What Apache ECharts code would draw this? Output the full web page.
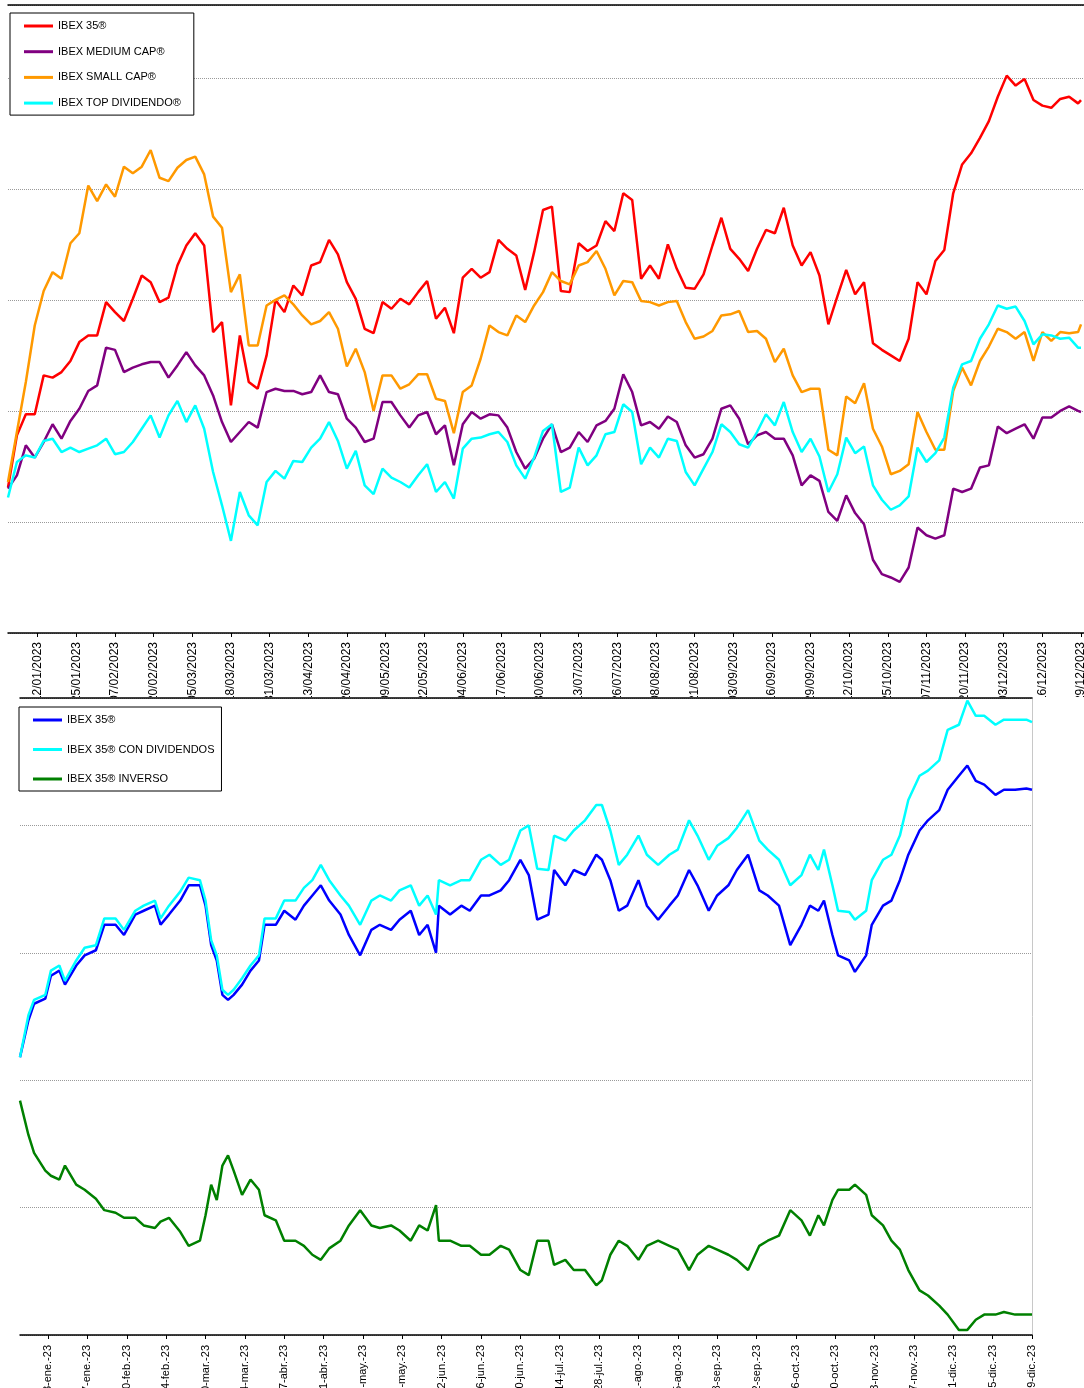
<!DOCTYPE html>
<html>
<head>
<meta charset="utf-8">
<script src="https://cdn.jsdelivr.net/npm/echarts@6/dist/echarts.min.js"></script>
<style>
  body { margin: 0; background: #fff; }
  #top { position: absolute; left: 0; top: 0; width: 1084px; height: 697px; }
  #bottom { position: absolute; left: 0; top: 697px; width: 1084px; height: 691px; }
</style>
</head>
<body>
<div id="top"></div>
<div id="bottom"></div>
<script>
// ---- top chart: sample days counted from 02/01/2023 ----
var topDays = [0,3,6,9,12,15,18,21,24,27,30,33,36,39,42,45,48,51,54,57,60,63,66,69,72,75,78,81,84,87,90,
  93,96,99,102,105,108,111,114,117,120,123,126,129,132,135,138,141,144,147,150,153,156,159,162,165,168,171,174,177,180,
  183,186,189,192,195,198,201,204,207,210,213,216,219,222,225,228,231,234,237,240,243,246,249,252,255,258,261,264,267,270,
  273,276,279,282,285,288,291,294,297,300,303,306,309,312,315,318,321,324,327,330,333,336,339,342,345,348,351,354,357,360,361];

var ibex35 = [83.1,87.8,89.7,89.7,93.2,93.0,93.5,94.5,96.2,96.8,96.8,99.8,98.9,98.1,100.1,102.2,101.6,99.8,100.2,103.1,104.9,106.0,104.9,97.1,98.0,90.5,96.8,92.6,92.0,95.0,100.0,
  98.9,101.3,100.4,103.1,103.4,105.4,104.1,101.6,100.1,97.4,97.0,99.8,99.2,100.1,99.6,100.7,101.7,98.3,99.3,97.0,102.0,102.8,102.0,102.5,105.4,104.6,104.0,100.9,104.3,108.1,
  108.4,100.8,100.7,105.1,104.4,104.9,107.1,106.2,109.6,109.0,101.9,103.1,101.9,105.0,102.8,101.1,101.0,102.3,104.9,107.4,104.6,103.7,102.6,104.6,106.3,106.0,108.3,104.9,103.1,104.3,
  102.2,97.8,100.3,102.7,100.5,101.6,96.1,95.5,95.0,94.5,96.5,101.6,100.5,103.5,104.5,109.6,112.2,113.2,114.6,116.1,118.3,120.2,119.3,119.9,118.0,117.5,117.3,118.1,118.3,117.7,118.0];

var ibexMedium = [83.0,84.2,86.9,85.8,87.2,88.8,87.5,89.1,90.2,91.8,92.3,95.7,95.5,93.5,93.9,94.2,94.4,94.4,93.0,94.1,95.3,94.1,93.2,91.4,89.0,87.2,88.1,89.0,88.5,91.7,92.0,
  91.8,91.8,91.5,91.7,93.2,91.7,91.5,89.3,88.5,87.2,87.5,90.8,90.8,89.6,88.5,89.6,89.9,87.9,88.7,85.1,88.8,89.9,89.3,89.7,89.6,88.5,86.3,84.8,85.7,87.5,
  88.8,86.3,86.7,88.1,87.2,88.7,89.1,90.2,93.3,91.7,88.7,89.0,88.4,89.5,89.0,86.9,85.8,86.1,87.5,90.2,90.5,89.3,87.0,87.8,88.1,87.5,87.5,86.0,83.3,84.2,
  83.7,80.9,80.1,82.4,80.8,79.8,76.6,75.3,75.0,74.6,75.9,79.5,78.8,78.5,78.8,83.0,82.7,83.0,84.9,85.1,88.6,88.0,88.4,88.8,87.5,89.4,89.4,90.0,90.4,90.0,89.9];

var ibexSmall = [83.6,88.1,92.6,97.7,100.8,102.5,101.9,105.1,106.0,110.3,108.9,110.4,109.3,112.0,111.4,112.0,113.5,111.0,110.7,111.9,112.6,112.9,111.3,107.5,106.5,100.7,102.3,95.9,95.9,99.5,100.0,
  100.4,99.6,98.6,97.8,98.1,98.9,97.4,94.0,95.6,93.5,90.0,93.2,93.2,92.0,92.4,93.3,93.3,91.1,90.9,88.0,91.7,92.3,94.7,97.7,97.1,96.8,98.6,98.0,99.5,100.7,
  102.5,101.7,101.4,103.1,103.4,104.4,102.8,100.4,101.7,101.6,99.9,99.8,99.5,99.8,99.9,98.0,96.5,96.7,97.2,98.6,98.7,99.0,97.1,97.2,96.5,94.4,95.6,93.2,91.7,92.0,
  92.0,86.5,86.0,91.3,90.7,92.5,88.4,86.8,84.3,84.6,85.2,89.9,88.1,86.5,86.5,91.8,93.9,92.3,94.5,95.8,97.4,97.1,96.5,97.1,94.5,97.1,96.3,97.1,97.0,97.1,97.8];

var ibexTopDiv = [82.2,85.4,86.0,85.8,87.3,87.5,86.3,86.7,86.3,86.6,86.9,87.5,86.1,86.3,87.2,88.4,89.6,87.6,89.6,90.9,89.0,90.5,88.4,84.5,81.5,78.3,82.7,80.6,79.7,83.6,84.6,
  83.9,85.5,85.4,86.7,87.5,89.0,87.3,84.8,86.4,83.3,82.5,84.8,84.0,83.6,83.1,84.2,85.2,82.7,83.6,82.1,86.6,87.5,87.6,87.9,88.1,87.2,85.1,83.9,85.8,88.2,
  88.8,82.7,83.1,86.7,85.1,86.0,87.9,88.1,90.6,89.9,85.2,86.7,85.8,87.5,87.3,84.5,83.3,84.8,86.3,88.8,88.1,87.0,86.7,88.1,89.7,88.7,90.8,88.1,86.3,87.5,
  85.9,82.7,84.3,87.6,86.2,86.8,83.3,82.0,81.1,81.5,82.3,86.7,85.4,86.2,87.6,92.1,94.2,94.5,96.5,97.8,99.5,99.2,99.4,98.1,96.0,96.9,96.8,96.5,96.6,95.7,95.7];

var topNames = ['IBEX 35®', 'IBEX MEDIUM CAP®', 'IBEX SMALL CAP®', 'IBEX TOP DIVIDENDO®'];

// ---- bottom chart: sample days counted from 03/01/2023 ----
var bottomDays = [0,3,5,9,11,14,16,20,23,27,30,34,37,41,44,48,50,53,57,60,
  64,66,68,70,72,74,76,79,82,85,87,91,94,98,101,104,107,110,114,117,
  121,125,128,132,135,139,142,145,148,149,153,157,160,164,167,171,174,178,181,184,
  188,190,194,197,201,205,207,210,213,216,220,223,227,231,234,238,241,245,248,252,
  255,259,263,266,270,274,278,281,284,286,289,291,295,297,301,303,307,310,313,316,
  320,323,327,330,334,337,340,343,347,350,354,358,360];

var ibex35b = [101.8,104.7,106.0,106.4,108.2,108.6,107.5,109.0,109.8,110.2,112.2,112.2,111.4,113.0,113.3,113.7,112.2,113.0,114.1,115.3,
  115.3,113.7,110.6,109.4,106.7,106.3,106.7,107.5,108.6,109.4,112.2,112.2,113.3,112.6,113.7,114.5,115.3,114.1,113.0,111.4,
  109.8,111.8,112.2,111.8,112.6,113.3,111.4,112.2,110.0,113.7,113.0,113.7,113.3,114.5,114.5,114.9,115.7,117.3,116.1,112.6,
  113.0,116.5,115.3,116.5,116.1,117.7,117.3,115.7,113.3,113.7,115.7,113.7,112.6,113.7,114.5,116.5,115.3,113.3,114.5,115.3,
  116.5,117.7,114.9,114.5,113.7,110.6,112.2,113.7,113.3,114.1,111.4,109.8,109.4,108.5,109.8,112.2,113.7,114.1,115.7,117.7,
  119.6,120.4,121.2,122.8,123.9,124.7,123.5,123.2,122.4,122.8,122.8,122.9,122.8];

var ibex35Div = [101.8,105.1,106.3,106.7,108.6,109.0,107.8,109.4,110.4,110.6,112.7,112.7,111.8,113.3,113.7,114.1,112.7,113.7,114.8,115.9,
  115.7,114.1,111.0,109.8,107.1,106.7,107.1,108.0,109.0,109.8,112.7,112.7,114.1,114.1,115.1,115.7,116.9,115.7,114.5,113.7,
  112.2,114.1,114.5,114.1,114.9,115.3,113.7,114.5,113.0,115.7,115.3,115.7,115.7,117.3,117.7,116.9,117.3,119.6,120.0,116.6,
  116.5,119.2,118.8,119.6,120.4,121.6,121.6,119.6,116.9,117.7,119.2,117.7,116.9,117.7,118.1,120.4,119.2,117.3,118.4,119.0,
  119.8,121.2,118.8,118.1,117.3,115.3,116.1,117.7,116.5,118.1,115.3,113.3,113.2,112.6,113.3,115.7,117.3,117.7,119.2,122.0,
  123.9,124.3,125.1,127.5,127.9,129.8,128.6,128.6,127.9,128.3,128.3,128.3,128.1];

var ibex35Inv = [98.4,95.7,94.3,92.9,92.5,92.2,93.3,91.8,91.4,90.7,89.8,89.6,89.2,89.2,88.6,88.4,88.9,89.2,88.1,87.0,
  87.4,89.4,91.8,90.6,93.3,94.1,92.9,91.0,92.2,91.4,89.4,89.0,87.4,87.4,87.0,86.3,85.9,86.8,87.4,88.6,
  89.8,88.6,88.4,88.6,88.2,87.4,88.6,88.2,90.2,87.4,87.4,87.0,87.0,86.3,86.3,87.0,86.7,85.1,84.7,87.4,
  87.4,85.5,85.9,85.1,85.1,83.9,84.3,86.3,87.4,87.0,85.9,87.0,87.4,87.0,86.7,85.1,86.3,87.0,86.7,86.3,
  85.9,85.1,87.0,87.4,87.8,89.8,89.0,87.8,89.4,88.6,90.6,91.4,91.4,91.8,91.0,89.4,88.6,87.4,86.7,85.1,
  83.5,83.1,82.3,81.6,80.4,80.4,81.2,81.6,81.6,81.8,81.6,81.6,81.6];

var bottomNames = ['IBEX 35®', 'IBEX 35® CON DIVIDENDOS', 'IBEX 35® INVERSO'];

var months = ['ene.', 'feb.', 'mar.', 'abr.', 'may.', 'jun.', 'jul.', 'ago.', 'sep.', 'oct.', 'nov.', 'dic.'];
var pad = function (n) { return (n < 10 ? '0' : '') + n; };

// calendar days on the x axis
function calendar(startUtc, count, fmt) {
  var out = [];
  for (var i = 0; i < count; i++) {
    out.push(fmt(new Date(startUtc + i * 86400000)));
  }
  return out;
}
var topCats = calendar(Date.UTC(2023, 0, 2), 363, function (d) {
  return pad(d.getUTCDate()) + '/' + pad(d.getUTCMonth() + 1) + '/' + d.getUTCFullYear();
});
var bottomCats = calendar(Date.UTC(2023, 0, 3), 361, function (d) {
  return pad(d.getUTCDate()) + '-' + months[d.getUTCMonth()] + '-' + String(d.getUTCFullYear()).slice(2);
});

function pairs(days, vals) {
  return days.map(function (d, i) { return [d, vals[i]]; });
}

var font = "'Liberation Sans', Arial, sans-serif";
var grid_line = { show: true, lineStyle: { color: '#9a9a9a', type: [1, 1], width: 1 } };

function lineSeries(name, color, data) {
  return {
    name: name, type: 'line', data: data, color: color,
    showSymbol: false, symbol: 'none', smooth: false,
    lineStyle: { width: 2.5, color: color }
  };
}

function legend(left, top, gap, padRight) {
  return {
    orient: 'vertical', left: left, top: top,
    icon: 'rect', itemWidth: 29, itemHeight: 3, itemGap: gap,
    padding: [6, padRight, 5, 14],
    backgroundColor: '#fff', borderColor: '#000', borderWidth: 1, borderRadius: 0,
    textStyle: { fontFamily: font, fontSize: 11, color: '#000', lineHeight: 14 }
  };
}

// top chart
var topChart = echarts.init(document.getElementById('top'));
topChart.setOption({
  animation: false,
  backgroundColor: '#fff',
  grid: { left: 8, right: 0, top: 5, bottom: 64, outerBoundsMode: 'none' },
  legend: legend(10, 13, 11.7, 13),
  xAxis: [{
    type: 'category', data: topCats, boundaryGap: false,
    axisLine: { lineStyle: { color: '#000', width: 1.5 } },
    axisTick: { length: 4, lineStyle: { color: '#000' },
      interval: function (i) { return i >= 10 && (i - 10) % 13 === 0; } },
    axisLabel: { rotate: 90, margin: 9, fontFamily: font, fontSize: 12, color: '#000',
      interval: function (i) { return i >= 10 && (i - 10) % 13 === 0; } },
    splitLine: { show: false }
  }, {
    type: 'category', data: topCats, boundaryGap: false, position: 'top',
    axisLine: { lineStyle: { color: '#000', width: 1.5 } },
    axisTick: { show: false }, axisLabel: { show: false }
  }],
  yAxis: {
    type: 'value', min: 70, max: 126.56, interval: 10,
    axisLine: { show: false }, axisTick: { show: false }, axisLabel: { show: false },
    splitLine: grid_line
  },
  series: [
    lineSeries(topNames[0], '#ff0000', pairs(topDays, ibex35)),
    lineSeries(topNames[1], '#800080', pairs(topDays, ibexMedium)),
    lineSeries(topNames[2], '#ff9900', pairs(topDays, ibexSmall)),
    lineSeries(topNames[3], '#00ffff', pairs(topDays, ibexTopDiv))
  ]
});

// bottom chart
var bottomChart = echarts.init(document.getElementById('bottom'));
bottomChart.setOption({
  animation: false,
  backgroundColor: '#fff',
  grid: { left: 20, right: 52, top: 1, bottom: 53, outerBoundsMode: 'none' },
  legend: legend(19, 10, 15.5, 7),
  xAxis: [{
    type: 'category', data: bottomCats, boundaryGap: false,
    axisLine: { lineStyle: { color: '#000', width: 1.5 } },
    axisTick: { length: 4, lineStyle: { color: '#000' },
      interval: function (i) { return i >= 10 && (i - 10) % 14 === 0; } },
    axisLabel: { rotate: 90, margin: 10, fontFamily: font, fontSize: 11, color: '#000',
      interval: function (i) { return i >= 10 && (i - 10) % 14 === 0; } },
    splitLine: { show: false }
  }, {
    type: 'category', data: bottomCats, boundaryGap: false, position: 'top',
    axisLine: { lineStyle: { color: '#000', width: 1.5 } },
    axisTick: { show: false }, axisLabel: { show: false }
  }],
  yAxis: [{
    type: 'value', min: 80, max: 130, interval: 10,
    axisLine: { show: false }, axisTick: { show: false }, axisLabel: { show: false },
    splitLine: grid_line
  }, {
    type: 'value', min: 80, max: 130, interval: 10, position: 'right',
    axisLine: { show: true, lineStyle: { color: '#c8c8c8' } },
    axisTick: { show: false }, axisLabel: { show: false }, splitLine: { show: false }
  }],
  series: [
    lineSeries(bottomNames[0], '#0000ff', pairs(bottomDays, ibex35b)),
    lineSeries(bottomNames[1], '#00ffff', pairs(bottomDays, ibex35Div)),
    lineSeries(bottomNames[2], '#008000', pairs(bottomDays, ibex35Inv))
  ]
});
</script>
</body>
</html>
